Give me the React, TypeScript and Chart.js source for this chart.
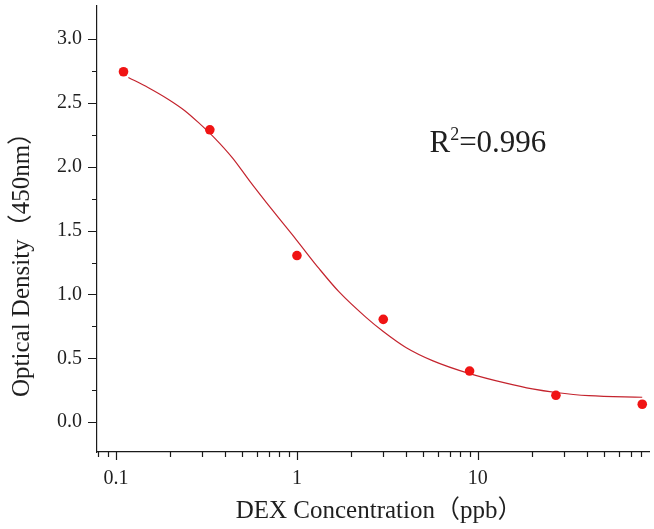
import React, { useEffect, useRef } from "react";
import { Chart, registerables } from "chart.js";

Chart.register(...registerables);

// ---- data ----
const concentrations = [0.11, 0.33, 1, 3, 9, 27, 81];
const opticalDensity = [2.745, 2.29, 1.305, 0.805, 0.4, 0.21, 0.14];

// fitted curve
const fitX = [0.117, 0.151, 0.194, 0.24, 0.284, 0.351, 0.44, 0.547, 0.736, 0.99, 1.33, 1.71, 2.4, 3.0, 4.0, 5.65, 9, 14.3, 20, 27, 41, 81];
const fitY = [2.7, 2.62, 2.53, 2.44, 2.35, 2.225, 2.07, 1.89, 1.656, 1.43, 1.2, 1.02, 0.823, 0.71, 0.585, 0.48, 0.38, 0.305, 0.26, 0.232, 0.207, 0.195];

const xTickValues = [0.1, 1, 10];
const yTickValues = [0, 0.5, 1.0, 1.5, 2.0, 2.5, 3.0];
const yMinorValues = [0.25, 0.75, 1.25, 1.75, 2.25, 2.75];

const X_TITLE = "DEX Concentration（ppb）";
const Y_TITLE = "Optical Density（450nm）";
const R2_LABEL = "R";
const R2_SUP = "2";
const R2_VALUE = "=0.996";

const FONT = "'Liberation Serif', 'Noto Sans CJK SC', serif";
const TEXT_COLOR = "#1f1f1f";
const AXIS_COLOR = "#1a1a1a";

const X_MIN = 0.0785;
const X_MAX = 88.5;
const Y_MIN = -0.234;
const Y_MAX = 3.26;

function xMinorValues(): number[] {
  const out: number[] = [];
  for (const d of [0.01, 0.1, 1, 10]) {
    for (let k = 2; k <= 9; k++) {
      const v = d * k;
      if (v >= X_MIN && v <= X_MAX) out.push(v);
    }
  }
  return out;
}

const decorPlugin = {
  id: "decor",
  afterDraw(chart: any) {
    const { ctx, chartArea, scales } = chart;
    const xs = scales.x;
    const ys = scales.y;
    ctx.save();
    ctx.strokeStyle = AXIS_COLOR;
    ctx.lineWidth = 1.2;
    ctx.beginPath();
    for (const v of yTickValues) {
      const p = Math.round(ys.getPixelForValue(v)) + 0.5;
      ctx.moveTo(chartArea.left, p);
      ctx.lineTo(chartArea.left - 9, p);
    }
    for (const v of yMinorValues) {
      const p = Math.round(ys.getPixelForValue(v)) + 0.5;
      ctx.moveTo(chartArea.left, p);
      ctx.lineTo(chartArea.left - 5, p);
    }
    for (const v of xTickValues) {
      const p = Math.round(xs.getPixelForValue(v)) + 0.5;
      ctx.moveTo(p, chartArea.bottom);
      ctx.lineTo(p, chartArea.bottom + 8);
    }
    for (const v of xMinorValues()) {
      const p = Math.round(xs.getPixelForValue(v)) + 0.5;
      ctx.moveTo(p, chartArea.bottom);
      ctx.lineTo(p, chartArea.bottom + 5);
    }
    ctx.stroke();

    // x title
    ctx.fillStyle = TEXT_COLOR;
    ctx.font = `25px ${FONT}`;
    ctx.textAlign = "center";
    ctx.textBaseline = "alphabetic";
    ctx.fillText(X_TITLE, (chartArea.left + chartArea.right) / 2 + 6, chartArea.bottom + 66);

    // y title
    ctx.save();
    ctx.translate(29, chartArea.top + (chartArea.bottom - chartArea.top) * 0.566);
    ctx.rotate(-Math.PI / 2);
    ctx.font = `25px ${FONT}`;
    ctx.textAlign = "center";
    ctx.textBaseline = "alphabetic";
    ctx.fillText(Y_TITLE, 0, 0);
    ctx.restore();

    // R^2 annotation
    const rx = xs.getPixelForValue(5.4);
    const ry = ys.getPixelForValue(2.12);
    ctx.textAlign = "left";
    ctx.font = `31px ${FONT}`;
    ctx.fillText(R2_LABEL, rx, ry);
    const rw = ctx.measureText(R2_LABEL).width;
    ctx.font = `18px ${FONT}`;
    ctx.fillText(R2_SUP, rx + rw, ry - 12);
    const sw = ctx.measureText(R2_SUP).width;
    ctx.font = `31px ${FONT}`;
    ctx.fillText(R2_VALUE, rx + rw + sw, ry);
    ctx.restore();
  },
};

export default function App() {
  const canvasRef = useRef<HTMLCanvasElement | null>(null);

  useEffect(() => {
    if (!canvasRef.current) return;
    const chart = new Chart(canvasRef.current, {
      type: "scatter",
      data: {
        datasets: [
          {
            label: "measured",
            data: concentrations.map((c, i) => ({ x: c, y: opticalDensity[i] })),
            backgroundColor: "#f01414",
            borderColor: "#f01414",
            borderWidth: 0,
            pointRadius: 4.8,
            showLine: false,
          },
          {
            label: "fit",
            data: fitX.map((c, i) => ({ x: c, y: fitY[i] })),
            borderColor: "#c4242e",
            borderWidth: 1.2,
            pointRadius: 0,
            showLine: true,
            cubicInterpolationMode: "monotone",
          } as any,
        ],
      },
      options: {
        animation: false,
        responsive: true,
        maintainAspectRatio: false,
        layout: { padding: { top: 6, right: 3, left: 0, bottom: 0 } },
        plugins: {
          legend: { display: false },
          tooltip: { enabled: false },
        },
        scales: {
          x: {
            type: "logarithmic",
            min: X_MIN,
            max: X_MAX,
            afterBuildTicks: (s: any) => {
              s.ticks = xTickValues.map((v) => ({ value: v }));
            },
            afterFit: (s: any) => {
              s.height = 77;
              s.paddingLeft = 0;
              s.paddingRight = 0;
            },
            grid: { display: true, drawOnChartArea: false, drawTicks: false },
            border: { display: true, color: AXIS_COLOR, width: 1.2 },
            ticks: {
              padding: 15,
              autoSkip: false,
              maxRotation: 0,
              color: TEXT_COLOR,
              font: { family: FONT, size: 20 },
              callback: (v: any) => String(v),
            },
          },
          y: {
            type: "linear",
            min: Y_MIN,
            max: Y_MAX,
            afterBuildTicks: (s: any) => {
              s.ticks = yTickValues.map((v) => ({ value: v }));
            },
            afterFit: (s: any) => {
              s.width = 97;
              s.paddingTop = 0;
              s.paddingBottom = 0;
            },
            grid: { display: true, drawOnChartArea: false, drawTicks: false },
            border: { display: true, color: AXIS_COLOR, width: 1.2 },
            ticks: {
              padding: 15,
              autoSkip: false,
              color: TEXT_COLOR,
              font: { family: FONT, size: 20 },
              callback: (v: any) => Number(v).toFixed(1),
            },
          },
        },
      },
      plugins: [decorPlugin],
    });
    return () => chart.destroy();
  }, []);

  return (
    <div style={{ position: "absolute", left: 0, top: 0, width: 654, height: 529, background: "#fff" }}>
      <canvas ref={canvasRef} />
    </div>
  );
}
